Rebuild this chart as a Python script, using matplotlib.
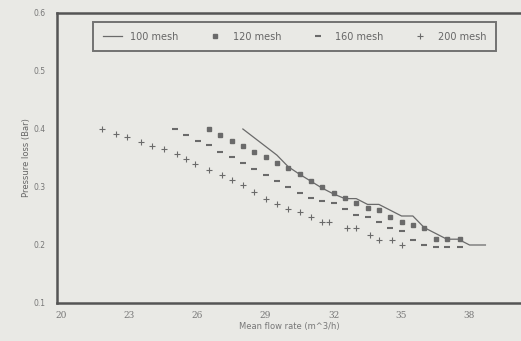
import matplotlib
matplotlib.use('Agg')
import matplotlib.pyplot as plt

# 100 mesh (solid line)
mesh100_x = [28, 28.5, 29, 29.5, 30, 30.5, 31, 31.5, 32, 32.5, 33, 33.5, 34, 34.5, 35, 35.5, 36, 36.5, 37, 37.5, 38, 38.7]
mesh100_y = [0.40, 0.385, 0.37, 0.355, 0.335, 0.322, 0.31, 0.298, 0.288, 0.28, 0.28, 0.27, 0.27, 0.26, 0.25, 0.25, 0.23, 0.22, 0.21, 0.21, 0.20, 0.20]

# 120 mesh (squares)
mesh120_x = [26.5, 27, 27.5, 28, 28.5, 29, 29.5, 30, 30.5, 31, 31.5, 32, 32.5, 33, 33.5, 34, 34.5, 35, 35.5, 36, 36.5, 37, 37.6]
mesh120_y = [0.40, 0.39, 0.38, 0.371, 0.36, 0.352, 0.341, 0.333, 0.323, 0.31, 0.30, 0.29, 0.281, 0.272, 0.264, 0.26, 0.248, 0.24, 0.235, 0.229, 0.21, 0.21, 0.21]

# 160 mesh (dashes)
mesh160_x = [25, 25.5, 26, 26.5, 27, 27.5, 28, 28.5, 29, 29.5, 30, 30.5, 31, 31.5, 32, 32.5, 33, 33.5, 34, 34.5, 35, 35.5, 36, 36.5, 37, 37.6]
mesh160_y = [0.40, 0.39, 0.38, 0.372, 0.36, 0.352, 0.341, 0.331, 0.321, 0.31, 0.30, 0.29, 0.281, 0.276, 0.272, 0.262, 0.252, 0.248, 0.24, 0.229, 0.225, 0.209, 0.20, 0.197, 0.197, 0.197]

# 200 mesh (plus)
mesh200_x = [21.8, 22.4, 22.9, 23.5, 24, 24.5, 25.1, 25.5, 25.9, 26.5, 27.1, 27.5, 28, 28.5, 29, 29.5, 30, 30.5, 31, 31.5, 31.8, 32.6, 33, 33.6, 34, 34.6, 35]
mesh200_y = [0.40, 0.392, 0.386, 0.378, 0.37, 0.366, 0.357, 0.348, 0.34, 0.33, 0.32, 0.312, 0.303, 0.292, 0.28, 0.27, 0.262, 0.257, 0.248, 0.24, 0.24, 0.229, 0.229, 0.217, 0.209, 0.209, 0.20]

x_ticks = [20, 23, 26, 29, 32, 35, 38]
y_ticks = [0.1, 0.2, 0.3, 0.4, 0.5, 0.6]

bg = '#e9e9e5'
ink = '#6a6a6a'

fig = plt.figure(figsize=(5.21, 3.41), dpi=100, facecolor=bg)
ax = fig.add_axes([57 / 521, 38 / 341, 464 / 521, 290 / 341], facecolor=bg)

ax.plot(mesh100_x, mesh100_y, color=ink, lw=0.9, label='100 mesh')
ax.plot(mesh120_x, mesh120_y, ls='none', marker='s', ms=2.4, color=ink, mec=ink, label='120 mesh')
ax.plot(mesh160_x, mesh160_y, ls='none', marker='_', ms=4.5, mew=1.5, color=ink, label='160 mesh')
ax.plot(mesh200_x, mesh200_y, ls='none', marker='+', ms=4.5, mew=0.8, color=ink, label='200 mesh')

ax.set_xlim(19.8, 40.27)
ax.set_ylim(0.1, 0.6)
ax.set_xticks(x_ticks)
ax.set_xticklabels([str(t) for t in x_ticks], family='DejaVu Serif', fontsize=6.5, color='#777777')
ax.set_yticks(y_ticks)
ax.set_yticklabels([f'{t:.1f}' for t in y_ticks], fontsize=5.5, color='#777777')
ax.tick_params(axis='x', length=0, pad=6)
ax.tick_params(axis='y', length=0, pad=8)

for side in ['left', 'bottom', 'top']:
    ax.spines[side].set_color('#555555')
    ax.spines[side].set_linewidth(1.8)
ax.spines['right'].set_visible(False)

ax.set_xlabel('Mean flow rate (m^3/h)', fontsize=6, color='#777777', labelpad=1)
ax.set_ylabel('Pressure loss (Bar)', fontsize=6, color='#666666', labelpad=2)

leg = ax.legend(loc='upper left', bbox_to_anchor=(0.067, 0.834, 0.89, 0.152), mode='expand',
                ncol=4, fontsize=7, frameon=True, fancybox=False, handlelength=2.0,
                borderpad=1.0, handletextpad=0.8, columnspacing=1.0)
leg.get_frame().set_edgecolor('#555555')
leg.get_frame().set_linewidth(1.4)
leg.get_frame().set_facecolor(bg)
for t in leg.get_texts():
    t.set_color('#666666')

fig.savefig('out.png', dpi=100, facecolor=bg)
